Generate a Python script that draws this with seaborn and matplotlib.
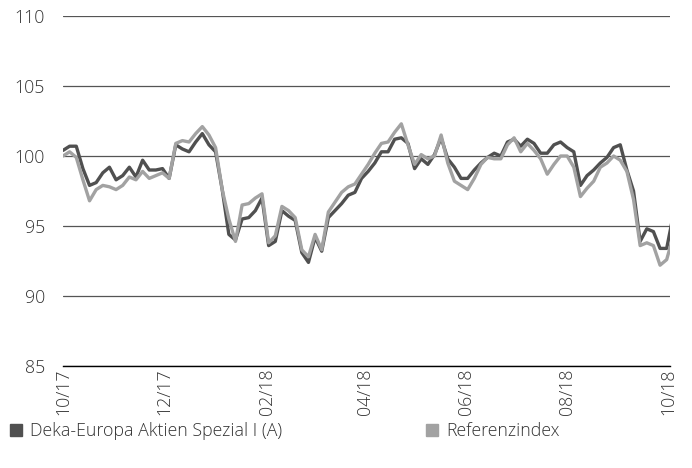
import pandas as pd
import seaborn as sns
import matplotlib.pyplot as plt
import matplotlib.dates as mdates
from matplotlib.lines import Line2D

# Values, one point every 4 days from 01.10.2017
fund = [100.4, 100.7, 100.7, 99.1, 97.9, 98.1, 98.8, 99.2, 98.3, 98.6,
        99.2, 98.5, 99.7, 99.0, 99.0, 99.1, 98.4, 100.8, 100.5, 100.3,
        101.0, 101.6, 100.8, 100.3, 97.6, 94.4, 94.0, 95.5, 95.6, 96.1,
        97.0, 93.6, 93.9, 96.1, 95.7, 95.4, 93.1, 92.4, 94.2, 93.2,
        95.6, 96.1, 96.6, 97.2, 97.4, 98.4, 98.9, 99.5, 100.3, 100.3,
        101.2, 101.3, 100.9, 99.1, 99.8, 99.4, 100.1, 101.3, 99.8, 99.2,
        98.4, 98.4, 99.0, 99.5, 99.9, 100.2, 100.0, 101.0, 101.2, 100.7,
        101.2, 100.9, 100.2, 100.2, 100.8, 101.0, 100.6, 100.3, 97.9, 98.6,
        99.0, 99.5, 99.9, 100.6, 100.8, 99.0, 97.5, 93.9, 94.8, 94.6,
        93.4, 93.4, 95.8]
index = [100.0, 100.3, 99.9, 98.3, 96.8, 97.6, 97.9, 97.8, 97.6, 97.9,
         98.5, 98.3, 98.9, 98.4, 98.6, 98.8, 98.4, 100.9, 101.1, 101.0,
         101.6, 102.1, 101.5, 100.6, 97.6, 95.5, 93.9, 96.5, 96.6, 97.0,
         97.3, 93.8, 94.3, 96.4, 96.1, 95.6, 93.3, 92.8, 94.4, 93.3,
         96.0, 96.7, 97.4, 97.8, 98.0, 98.7, 99.4, 100.2, 100.9, 101.0,
         101.7, 102.3, 100.8, 99.4, 100.1, 99.8, 100.0, 101.5, 99.5, 98.2,
         97.9, 97.6, 98.4, 99.4, 99.9, 99.8, 99.8, 100.8, 101.3, 100.3,
         100.9, 100.4, 99.8, 98.7, 99.4, 100.0, 100.0, 99.2, 97.1, 97.7,
         98.2, 99.2, 99.5, 100.0, 99.7, 98.9, 96.9, 93.6, 93.8, 93.6,
         92.2, 92.6, 94.3]
dates = pd.date_range("2017-10-01", periods=len(fund), freq="4D")
names = ["Deka-Europa Aktien Spezial I (A)", "Referenzindex"]
colors = ["#505050", "#a2a2a2"]

df = pd.concat([
    pd.DataFrame({"date": dates, "value": fund, "series": names[0]}),
    pd.DataFrame({"date": dates, "value": index, "series": names[1]}),
])

sns.set_style("white")
plt.rcParams["font.family"] = ["Open Sans", "DejaVu Sans"]
plt.rcParams["font.weight"] = "light"
txt = "#333333"
fs = 12.8

fig = plt.figure(figsize=(6.92, 4.68), dpi=100)
ax = fig.add_axes([63 / 692, 1 - 366 / 468, 607 / 692, 350 / 468])

sns.lineplot(data=df, x="date", y="value", hue="series", hue_order=names,
             palette=colors, linewidth=2.4, legend=False, ax=ax)

ax.set_xlim(pd.Timestamp("2017-10-01"), pd.Timestamp("2018-10-02"))
ax.set_ylim(85, 110)
ax.set_yticks([85, 90, 95, 100, 105, 110])
ax.yaxis.grid(True, color="#555555", linewidth=0.9)
ax.set_axisbelow(True)
for s in ["top", "right", "left"]:
    ax.spines[s].set_visible(False)
ax.spines["bottom"].set_color("black")
ax.spines["bottom"].set_linewidth(1.0)

ax.xaxis.set_major_locator(mdates.MonthLocator(bymonth=[2, 4, 6, 8, 10, 12]))
ax.xaxis.set_major_formatter(mdates.DateFormatter("%m/%y"))
ax.tick_params(axis="x", length=0, pad=2, labelsize=fs, labelcolor=txt,
               labelrotation=90)
ax.tick_params(axis="y", length=0, pad=13, labelsize=fs, labelcolor=txt)
ax.set_xlabel("")
ax.set_ylabel("")

handles = [Line2D([], [], marker="s", linestyle="none", markersize=9,
                  color=c) for c in colors]
fig.legend(handles, names, loc="lower left", bbox_to_anchor=(0.0, 0.044),
           ncol=2, frameon=False, fontsize=fs, labelcolor=txt,
           handletextpad=0.3, handlelength=1.0, columnspacing=7.9,
           borderaxespad=0)

fig.savefig("out.png", dpi=100)
